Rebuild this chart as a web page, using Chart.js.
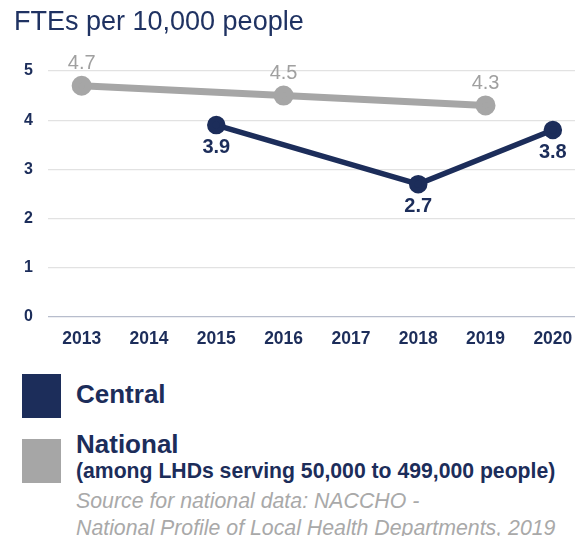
<!DOCTYPE html>
<html><head><meta charset="utf-8">
<script src="https://cdn.jsdelivr.net/npm/chart.js@4.4.1/dist/chart.umd.min.js"></script>
<style>
html,body{margin:0;padding:0;width:575px;height:536px;overflow:hidden;background:#fff;font-family:"Liberation Sans",Arial,sans-serif;}
#wrap{position:absolute;left:0;top:0;width:600px;height:365px;}
.t{position:absolute;white-space:nowrap;}
#title{left:14px;top:6px;font-size:27px;color:#1f3262;}
.sq{position:absolute;width:39px;height:44px;}
.lg{font-weight:bold;color:#1c2d5a;}
#src{left:76px;top:488px;font-size:21.3px;font-style:italic;color:#a9a9a9;line-height:27px;}
</style></head>
<body>
<div id="wrap"><canvas id="c" width="600" height="365" style="width:600px;height:365px"></canvas></div>
<div class="t" id="title">FTEs per 10,000 people</div>
<div class="sq" style="left:22px;top:374px;background:#1c2d5a"></div>
<div class="t lg" style="left:76px;top:379px;font-size:26px;">Central</div>
<div class="sq" style="left:22px;top:439px;background:#a6a6a6"></div>
<div class="t lg" style="left:76px;top:429px;font-size:26px;">National</div>
<div class="t lg" style="left:76px;top:459px;font-size:21.2px;">(among LHDs serving 50,000 to 499,000 people)</div>
<div class="t" id="src">Source for national data: NACCHO -<br>National Profile of Local Health Departments, 2019</div>
<script>
const years = ["2013","2014","2015","2016","2017","2018","2019","2020"];
const centralValues = [null,null,3.9,null,null,2.7,null,3.8];
const nationalValues = [4.7,null,null,4.5,null,null,4.3,null];
const yTicks = [0,1,2,3,4,5];

const NAVY = '#1c2d5a', GRAY = '#a6a6a6';

const labelPlugin = {
  id:'valueLabels',
  afterDatasetsDraw(chart){
    const ctx = chart.ctx;
    chart.data.datasets.forEach((ds,i)=>{
      const meta = chart.getDatasetMeta(i);
      meta.data.forEach((pt,j)=>{
        const v = ds.data[j];
        if(v===null||v===undefined) return;
        ctx.save();
        ctx.textAlign='center';
        ctx.textBaseline='middle';
        if(ds.labelPos==='above'){
          ctx.font='20px "Liberation Sans", Arial, sans-serif';
          ctx.fillStyle='#a0a0a0';
          ctx.fillText(v.toFixed(1), pt.x, pt.y-22);
        } else {
          ctx.font='bold 20px "Liberation Sans", Arial, sans-serif';
          ctx.fillStyle=NAVY;
          ctx.fillText(v.toFixed(1), pt.x, pt.y+22);
        }
        ctx.restore();
      });
    });
  }
};

new Chart(document.getElementById('c'),{
  type:'line',
  data:{
    labels:years,
    datasets:[
      {label:'National',data:nationalValues,borderColor:GRAY,backgroundColor:GRAY,borderWidth:7,pointRadius:6.5,pointHoverRadius:6.5,spanGaps:true,labelPos:'above',clip:false},
      {label:'Central',data:centralValues,borderColor:NAVY,backgroundColor:NAVY,borderWidth:5.5,pointRadius:6.5,pointHoverRadius:6.5,spanGaps:true,labelPos:'below',clip:false}
    ]
  },
  options:{
    responsive:false,
    animation:false,
    events:[],
    layout:{padding:{top:71,right:11,bottom:8,left:0}},
    plugins:{legend:{display:false},tooltip:{enabled:false},title:{display:false}},
    scales:{
      x:{
        offset:true,
        grid:{display:false},
        border:{display:false},
        ticks:{color:NAVY,font:{family:'"Liberation Sans", Arial, sans-serif',size:17.5,weight:'bold'},padding:4,maxRotation:0,autoSkip:false},
        afterFit(s){s.height=40;}
      },
      y:{
        min:0,max:5,
        afterBuildTicks(s){s.ticks=yTicks.map(v=>({value:v}));},
        grid:{color:(c)=>c.tick&&c.tick.value===0?'#b7bdcc':'#e2e2e2',lineWidth:1.2,drawTicks:false},
        border:{display:false},
        ticks:{color:NAVY,font:{family:'"Liberation Sans", Arial, sans-serif',size:16,weight:'bold'},padding:15},
        afterFit(s){s.width=48;}
      }
    }
  },
  plugins:[labelPlugin]
});
</script>
</body></html>
